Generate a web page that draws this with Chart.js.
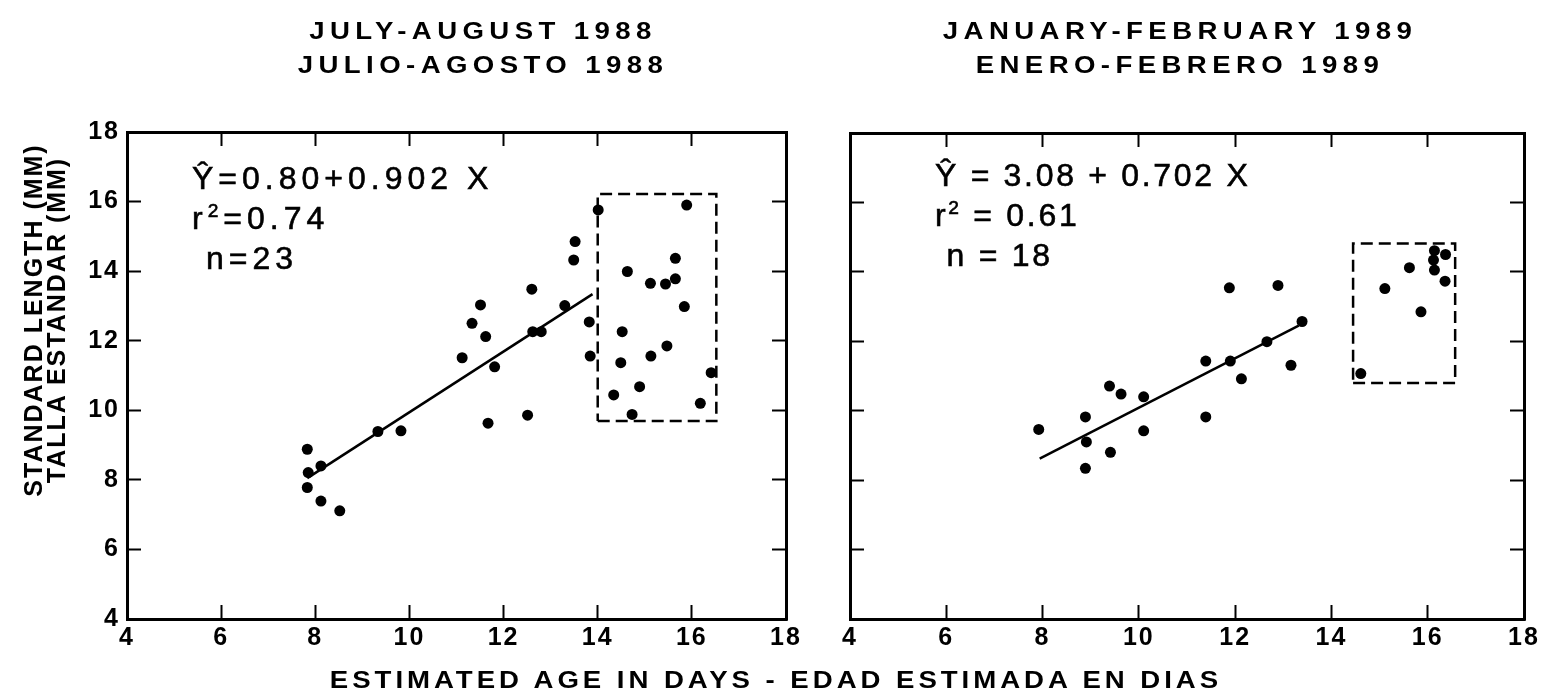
<!DOCTYPE html>
<html>
<head>
<meta charset="utf-8">
<script src="https://cdn.jsdelivr.net/npm/chart.js@4/dist/chart.umd.min.js"></script>
<style>
  body { margin: 0; width: 1546px; height: 698px; background: #fff; overflow: hidden; position: relative; }
  .panel { position: absolute; top: 0; height: 698px; }
  .txt { position: absolute; color: #000; font-family: "Liberation Sans", Arial, sans-serif; white-space: nowrap; }
  .title { font-weight: bold; font-size: 23px; letter-spacing: 4.5px; line-height: 34px; text-align: center; width: 600px; top: 14px; transform: scaleX(1.2); }
  .eq { font-size: 32px; line-height: 40px; -webkit-text-stroke: 0.6px #000; }
  .eq sup { font-size: 60%; line-height: 0; vertical-align: 0.65em; }
</style>
</head>
<body>
<div class="panel" style="left:0;width:810px"><canvas id="left"></canvas></div>
<div class="panel" style="left:810px;width:736px"><canvas id="right"></canvas></div>

<div class="txt title" style="left:183px">JULY-AUGUST 1988<br>JULIO-AGOSTO 1988</div>
<div class="txt title" style="left:880px">JANUARY-FEBRUARY 1989<br>ENERO-FEBRERO 1989</div>

<div class="txt eq" style="left:192px;top:158px;letter-spacing:5px">Ŷ=0.80+0.902 X<br>r<sup>2</sup>=0.74<br>&nbsp;n=23</div>
<div class="txt eq" style="left:935px;top:155px;letter-spacing:2.7px">Ŷ = 3.08 + 0.702 X<br>r<sup>2</sup> = 0.61<br>&nbsp;n = 18</div>

<div class="txt" style="left:-153px;top:295px;width:400px;height:50px;line-height:23px;text-align:center;font-weight:bold;font-size:25px;letter-spacing:2px;transform:rotate(-90deg)">STANDARD LENGTH (MM)<br>TALLA ESTANDAR (MM)</div>
<div class="txt" style="left:176px;top:665px;width:1200px;text-align:center;font-weight:bold;font-size:23px;letter-spacing:3.3px;line-height:30px;transform:scaleX(1.2)">ESTIMATED AGE IN DAYS - EDAD ESTIMADA EN DIAS</div>

<script>
// tick labels, both axes
const tickValues = [4, 6, 8, 10, 12, 14, 16, 18];

// July-August 1988: points used in the fit (n = 23)
const julyAge    = [7.83, 7.85, 8.12, 7.83, 8.12, 8.52, 9.33, 9.82, 11.12, 11.33, 11.51, 11.62, 11.81, 11.67, 12.51, 12.60, 12.62, 12.80, 13.30, 13.52, 13.49, 13.82, 13.84];
const julyLength = [8.88, 8.21, 8.40, 7.78, 7.39, 7.11, 9.39, 9.41, 11.51, 12.50, 13.03, 12.12, 11.25, 9.63, 9.86, 13.48, 12.26, 12.26, 13.01, 14.85, 14.32, 12.54, 11.56];
// points inside the dashed box
const julyBoxAge    = [14.01, 14.63, 15.12, 15.44, 15.65, 15.65, 15.89, 15.84, 14.52, 14.49, 15.13, 15.47, 14.34, 14.89, 14.73, 16.18, 16.41];
const julyBoxLength = [15.76, 13.99, 13.65, 13.63, 14.37, 13.78, 15.90, 12.98, 12.26, 11.37, 11.56, 11.85, 10.44, 10.68, 9.88, 10.20, 11.08];
// regression line ends and box corners
const julyFitAge    = [7.83, 13.89];
const julyFitLength = [8.05, 13.34];
const julyFrameAge    = [14.0, 16.52];
const julyFrameLength = [9.69, 16.22];

// January-February 1989: points used in the fit (n = 18)
const janAge    = [7.92, 8.89, 8.91, 8.89, 9.41, 9.39, 9.63, 10.10, 10.10, 11.39, 11.39, 11.88, 11.90, 12.13, 12.66, 12.89, 13.16, 13.39];
const janLength = [9.46, 9.82, 9.10, 8.34, 8.80, 10.71, 10.48, 10.40, 9.42, 11.43, 9.82, 13.54, 11.43, 10.92, 11.99, 13.61, 11.31, 12.57];
const janBoxAge    = [14.61, 15.11, 15.62, 15.86, 16.14, 16.12, 16.14, 16.37, 16.36];
const janBoxLength = [11.07, 13.52, 14.12, 12.85, 14.61, 14.34, 14.05, 14.50, 13.73];
const janFitAge    = [7.94, 13.32];
const janFitLength = [8.62, 12.45];
const janFrameAge    = [14.45, 16.57];
const janFrameLength = [10.80, 14.82];

function pts(xs, ys) {
    return xs.map((x, i) => ({ x: x, y: ys[i] }));
}

function frame(xs, ys) {
    return [
        { x: xs[0], y: ys[0] }, { x: xs[1], y: ys[0] },
        { x: xs[1], y: ys[1] }, { x: xs[0], y: ys[1] },
        { x: xs[0], y: ys[0] }
    ];
}

const tickFont = { family: '"Liberation Sans", Arial, sans-serif', size: 25, weight: 'bold' };

// ctx.letterSpacing so the tick digits spread like the print
const spacing = {
    id: 'spacing',
    beforeDraw(chart) { chart.ctx.letterSpacing = '2px'; }
};

function axis(pos, size, showLabels, pad) {
    const horiz = pos === 'top' || pos === 'bottom';
    return {
        type: 'linear',
        axis: horiz ? 'x' : 'y',
        position: pos,
        min: 4,
        max: 18,
        afterBuildTicks: s => { s.ticks = tickValues.map(v => ({ value: v })); },
        // fixed axis sizes, and no extra padding for the end labels
        afterFit: s => {
            if (horiz) s.height = size; else s.width = size;
            s.paddingLeft = 0; s.paddingRight = 0; s.paddingTop = 0; s.paddingBottom = 0;
        },
        ticks: { display: showLabels, font: tickFont, color: '#000', padding: pad },
        grid: { drawOnChartArea: false, tickLength: -14, tickWidth: 2, tickColor: '#000' },
        border: { display: true, width: 3, color: '#000' }
    };
}

function makePanel(id, pAge, pLen, bAge, bLen, fAge, fLen, rAge, rLen, sizes, showY) {
    return new Chart(document.getElementById(id), {
        type: 'scatter',
        data: {
            datasets: [
                { data: pts(fAge, fLen), showLine: true, borderColor: '#000', borderWidth: 2.5, pointRadius: 0 },
                { data: frame(rAge, rLen), showLine: true, borderColor: '#000', borderWidth: 2.5, borderDash: [12, 6], pointRadius: 0 },
                { data: pts(pAge, pLen), pointRadius: 5.5, backgroundColor: '#000', borderWidth: 0 },
                { data: pts(bAge, bLen), pointRadius: 5.5, backgroundColor: '#000', borderWidth: 0 }
            ]
        },
        options: {
            responsive: true,
            maintainAspectRatio: false,
            animation: false,
            layout: { padding: 0, autoPadding: false },
            plugins: { legend: { display: false }, tooltip: { enabled: false } },
            scales: {
                x: axis('bottom', sizes[0], true, 18),
                x2: axis('top', sizes[1], false, 0),
                y: axis('left', sizes[2], showY, 21),
                y2: axis('right', sizes[3], false, 0)
            }
        },
        plugins: [spacing]
    });
}

makePanel('left', julyAge, julyLength, julyBoxAge, julyBoxLength, julyFitAge, julyFitLength,
    julyFrameAge, julyFrameLength, [79, 132, 127, 24], true);
makePanel('right', janAge, janLength, janBoxAge, janBoxLength, janFitAge, janFitLength,
    janFrameAge, janFrameLength, [79, 133, 40, 22], false);
</script>
</body>
</html>
